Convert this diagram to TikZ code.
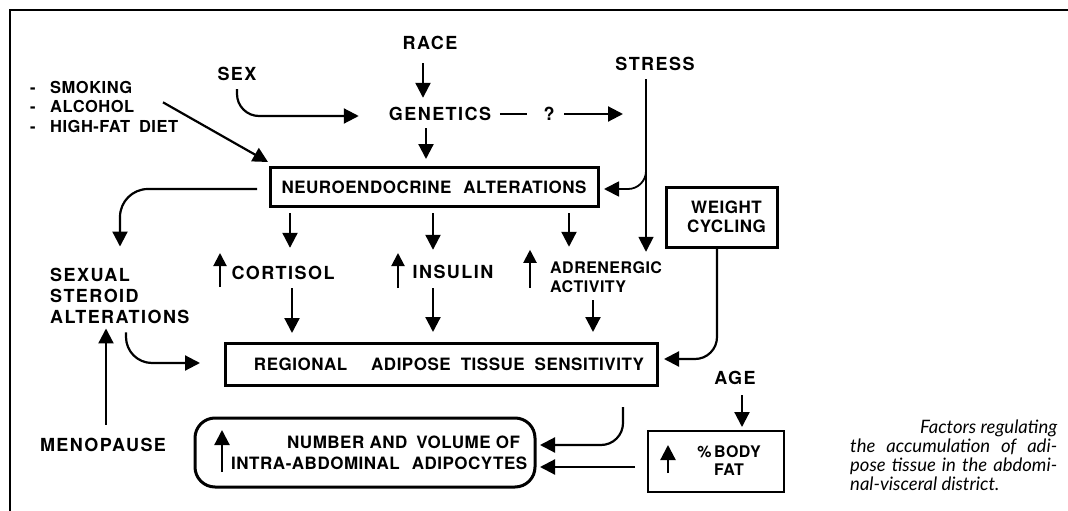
\documentclass[tikz,border=0pt]{standalone}
\usepackage{fontspec}
\setmainfont{TeX Gyre Heros}
\newfontfamily\spacedfont{TeX Gyre Heros}[LetterSpace=8.0]
\newfontfamily\boxfont{TeX Gyre Heros}[LetterSpace=3.0]
\newfontfamily\capfont{Lato}
\usetikzlibrary{arrows.meta,positioning}
\tikzset{
  lbl/.style={font=\spacedfont\bfseries\fontsize{18pt}{21pt}\selectfont, inner sep=0pt},
  onel/.style={lbl, text height=13pt, text depth=0pt},
  txt/.style={font=\boxfont\bfseries\fontsize{16pt}{19pt}\selectfont, inner sep=0pt},
  boxed/.style={draw, line width=3pt, inner sep=0pt, outer sep=0pt, font=\boxfont\bfseries\fontsize{17pt}{19pt}\selectfont},
  arr/.style={line width=2.2pt, -{Triangle[length=15pt,width=15pt]}},
  rise/.style={line width=2pt, -{Triangle[length=13pt,width=13pt]}},
}
\newcommand\capline[2][207pt]{\hbox to #1{\capfont\itshape\fontsize{18.5pt}{19pt}\selectfont #2}}
\begin{document}
\begin{tikzpicture}[x=1pt, y=-1pt]
  \useasboundingbox (0,0) rectangle (1068,511);
  \draw[line width=1.5pt] (10,511) -- (10,10) -- (1068,10);

  % top row
  \node[onel] (race) at (430,43) {RACE};
  \node[onel] (sex) at (237,74) {SEX};
  \node[onel] (stress) at (655,64) {STRESS};
  \node[txt, align=left, anchor=west, font=\boxfont\bfseries\fontsize{16.5pt}{19.5pt}\selectfont]
    (habits) at (30,106.5) {\makebox[20pt][l]{-}SMOKING\\\makebox[20pt][l]{-}ALCOHOL\\\makebox[20pt][l]{-}HIGH-FAT\hspace{9pt}DIET};
  \node[onel] (genetics) at (440,114) {GENETICS};
  \node[onel] (qmark) at (549,114) {?};
  \coordinate (qend) at (623,114);

  % boxes
  \node[boxed, minimum width=328pt, minimum height=39pt] (neuro) at (434,187)
    {NEUROENDOCRINE\hspace{12pt}ALTERATIONS};
  \node[boxed, minimum width=111pt, minimum height=60pt, align=center] (weight) at (721.5,217)
    {\hspace*{10pt}WEIGHT\\\hspace*{10pt}CYCLING};
  \node[boxed, minimum width=432pt, minimum height=42pt] (regional) at (441,364)
    {\hspace*{16pt}REGIONAL\hspace{24pt}ADIPOSE\hspace{10pt}TISSUE\hspace{10pt}SENSITIVITY};
  \node[boxed, rounded corners=20pt, minimum width=340pt, minimum height=69pt] (number) at (365,452.5) {};
  \node[txt, align=left, anchor=west, font=\boxfont\bfseries\fontsize{17pt}{21pt}\selectfont]
    (numtxt) at (231,452.5) {\hspace*{56pt}NUMBER AND\hspace{9pt}VOLUME OF\\INTRA-ABDOMINAL\hspace{12pt}ADIPOCYTES};
  \node[boxed, line width=2pt, minimum width=136pt, minimum height=61pt] (bodyfat) at (716,461.5) {};
  \node[txt, align=center, font=\boxfont\bfseries\fontsize{16pt}{18pt}\selectfont]
    (bftxt) at (729,461) {\%\,BODY\\FAT};

  % middle labels
  \node[lbl, align=left, anchor=west] (steroid) at (50,296) {SEXUAL\\STEROID\\ALTERATIONS};
  \node[onel] (cortisol) at (283,273) {CORTISOL};
  \node[onel] (insulin) at (453,272) {INSULIN};
  \node[txt, align=left, anchor=west] (adren) at (550,277.5) {ADRENERGIC\\ACTIVITY};
  \node[onel] (menopause) at (103,445) {MENOPAUSE};
  \node[onel] (age) at (735,378) {AGE};

  \node[align=left, anchor=north west, inner sep=0pt,
        font=\fontsize{16pt}{19pt}\selectfont] (caption) at (850,420)
    {\capline{\hfil Factors regulating}\\
     \capline{the accumulation of adi-}\\
     \capline{pose tissue in the abdomi-}\\
     \capline[170pt]{nal-visceral district.\hfil}};

  % connectors
  \draw[arr] ([xshift=-7pt,yshift=-13.5pt]race.south) -- ([xshift=-17pt,yshift=9.5pt]genetics.north);
  \draw[arr, rounded corners=22pt] ([yshift=-8.5pt]sex.south) |- ([xshift=-30pt,yshift=-2pt]genetics.west);
  \draw[arr] ([xshift=133pt,yshift=-21.75pt]habits.north west) -- ([xshift=-2pt,yshift=5.5pt]neuro.north west);
  \draw[arr] ([xshift=-14pt,yshift=-7.5pt]genetics.south) -- ([xshift=-8pt,yshift=8.5pt]neuro.north);
  \draw[line width=1.5pt, shorten <=8.5pt, shorten >=16.5pt] (genetics) -- (qmark);
  \draw[arr, shorten <=9.5pt] (qmark) -- (qend);
  \draw[arr, line width=1.8pt] ([xshift=-9pt,yshift=-8.5pt]stress.south) -- ([xshift=96pt,yshift=10pt]adren.north west);
  \draw[arr, line width=1.8pt, rounded corners=18pt] ([xshift=-9pt,yshift=-92pt]stress.south) |- ([xshift=6pt,yshift=-2pt]neuro.east);
  \draw[arr, rounded corners=28pt] ([xshift=-13pt,yshift=-2pt]neuro.west) -| ([xshift=70pt,yshift=21.5pt]steroid.north west);
  \draw[arr] ([xshift=-144pt,yshift=-6.5pt]neuro.south) -- ([xshift=7pt,yshift=18.5pt]cortisol.north);
  \draw[arr] ([xshift=-1pt,yshift=-6.5pt]neuro.south) -- ([xshift=-20pt,yshift=15.5pt]insulin.north);
  \draw[arr] ([xshift=135pt,yshift=-6.5pt]neuro.south) -- ([xshift=19pt,yshift=15pt]adren.north west);
  \draw[arr] ([xshift=9pt,yshift=-8.5pt]cortisol.south) -- ([xshift=-149pt,yshift=10pt]regional.north);
  \draw[arr] ([xshift=-20pt,yshift=-9.5pt]insulin.south) -- ([xshift=-8pt,yshift=11pt]regional.north);
  \draw[arr] ([xshift=43pt,yshift=-7pt]adren.south west) -- ([xshift=152pt,yshift=11pt]regional.north);
  \draw[arr, rounded corners=22pt] ([xshift=-4.5pt]weight.south) |- ([xshift=7pt,yshift=5pt]regional.east);
  \draw[arr, rounded corners=26pt] ([xshift=76pt,yshift=-8.5pt]steroid.south west) |- ([xshift=-25pt,yshift=1pt]regional.west);
  \draw[arr] ([xshift=3pt,yshift=13.5pt]menopause.north) -- ([xshift=56pt,yshift=-4.5pt]steroid.south west);
  \draw[arr, rounded corners=22pt] ([xshift=182pt,yshift=-22pt]regional.south) |- ([xshift=5pt,yshift=7.5pt]number.east);
  \draw[arr] ([xshift=-13pt,yshift=-5.5pt]bodyfat.west) -- ([xshift=5pt,yshift=-14.5pt]number.east);
  \draw[arr] ([xshift=7pt,yshift=-10.5pt]age.south) -- ([xshift=26pt,yshift=4pt]bodyfat.north);

  % increase marks
  \draw[rise] ([xshift=-63pt,yshift=-14pt]cortisol.center) -- ++(0,-34);
  \draw[rise] ([xshift=-55pt,yshift=-16pt]insulin.center) -- ++(0,-35);
  \draw[rise] ([xshift=-20pt,yshift=-26pt]adren.north west) -- ++(0,-38);
  \draw[arr] ([xshift=27pt,yshift=-19.5pt]number.west) -- ++(0,-42);
  \draw[arr] ([xshift=20pt,yshift=-11.5pt]bodyfat.west) -- ++(0,-28);
\end{tikzpicture}
\end{document}
